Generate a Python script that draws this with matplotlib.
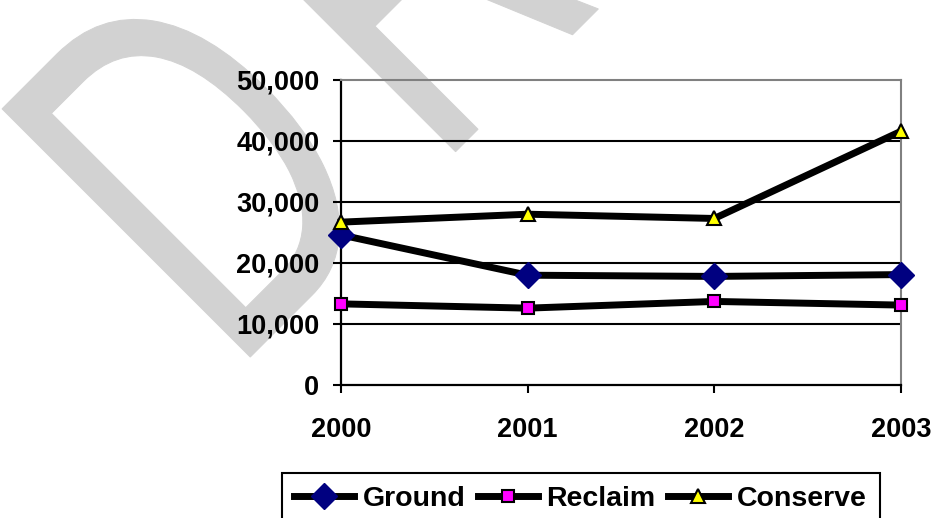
#!/usr/bin/env python

# Water use by source, 2000-2003, with a DRAFT watermark behind the chart

import math
import matplotlib
from matplotlib.backends.backend_agg import \
             FigureCanvasAgg as FigureCanvas
from matplotlib.figure import Figure
from matplotlib.font_manager import FontProperties
from matplotlib.textpath import TextPath
from matplotlib.patches import PathPatch
from matplotlib.transforms import Affine2D
from matplotlib.ticker import FuncFormatter

years    = ['2000', '2001', '2002', '2003']
ground   = [24600, 18000, 17800, 18100]
reclaim  = [13300, 12600, 13700, 13100]
conserve = [26700, 28000, 27300, 41600]
y_ticks  = [0, 10000, 20000, 30000, 40000, 50000]

W, H = 934, 518
fig=Figure(figsize=(W/100, H/100),
           dpi=100,
           facecolor='white')
canvas=FigureCanvas(fig)

font = 'Liberation Sans'

# Watermark: squeezed letters laid along a 45 degree baseline.
# Built from glyph outlines so the squeeze and letter spacing can be set.
wm_fp    = FontProperties(family=font)
wm_grey  = '#d2d2d2'
wm_grow  = 0.5        # outline stroke, pixels each side
wm_cap   = 352.0      # letter height, pixels
wm_sx    = 340.0      # horizontal size of one em, pixels
wm_gap   = 88.0       # space between letters, pixels
wm_base  = 608.0      # baseline: x + y in image pixels
u = -76.0             # position along the baseline, pixels
cap_d = TextPath((0, 0), 'D', size=1, prop=wm_fp).get_extents().ymax
wm_sy = (wm_cap - 2*wm_grow)/cap_d
for letter in 'DRAFT':
    tp = TextPath((0, 0), letter, size=1, prop=wm_fp)
    ext = tp.get_extents()
    xi = (wm_base + u*math.sqrt(2))/2
    yi = (wm_base - u*math.sqrt(2))/2
    tr = (Affine2D().translate(-ext.xmin, 0)
                    .scale(wm_sx, wm_sy)
                    .translate(wm_grow, wm_grow)
                    .rotate_deg(45)
                    .translate(xi, H - yi))
    fig.add_artist(PathPatch(tp, facecolor=wm_grey, edgecolor=wm_grey,
                             lw=2*wm_grow*0.72, joinstyle='miter',
                             transform=tr, zorder=-5))
    u += (ext.xmax - ext.xmin)*wm_sx + 2*wm_grow + wm_gap

ax=fig.add_axes([341/W, 1-385/H, 560/W, 305/H])
ax.set_facecolor('none')

x = range(len(years))
ax.plot(x, ground, color='black', lw=5, marker='D', markersize=13,
        markerfacecolor='#000080', markeredgecolor='#000080',
        clip_on=False, zorder=3, label='Ground')
ax.plot(x, reclaim, color='black', lw=5, marker='s', markersize=9,
        markerfacecolor='#ff00ff', markeredgecolor='black',
        markeredgewidth=1.5, clip_on=False, zorder=3, label='Reclaim')
ax.plot(x, conserve, color='black', lw=5, marker='^', markersize=10,
        markerfacecolor='#ffff00', markeredgecolor='black',
        markeredgewidth=1.5, clip_on=False, zorder=3, label='Conserve')

ax.set_xlim(0, len(years)-1)
ax.set_ylim(0, 50000)
ax.set_xticks(list(x))
ax.set_xticklabels(years)
ax.set_yticks(y_ticks)
ax.yaxis.set_major_formatter(FuncFormatter(lambda v, p: f'{int(v):,}'))

# Gridlines
for v in y_ticks[1:-1]:
    ax.axhline(v, color='black', lw=1.5, zorder=1)

for side in ['left', 'bottom']:
    ax.spines[side].set_color('black')
    ax.spines[side].set_linewidth(1.6)
for side in ['top', 'right']:
    ax.spines[side].set_color('#808080')
    ax.spines[side].set_linewidth(1.5)

ax.tick_params(axis='both', direction='out', length=6, width=1.5,
               color='black')
ax.tick_params(axis='y', pad=9.5)
ax.tick_params(axis='x', pad=17)
for lab in ax.get_xticklabels()+ax.get_yticklabels():
    lab.set_fontfamily(font)
    lab.set_fontweight('bold')
    lab.set_fontsize(19.5)

leg=ax.legend(loc='upper center', bbox_to_anchor=(580.5/W, 1-473/H),
              bbox_transform=fig.transFigure, ncol=3, frameon=True,
              fancybox=False, edgecolor='black', framealpha=1,
              handlelength=2.1, handletextpad=0.3, columnspacing=0.45,
              borderpad=0.45, borderaxespad=0,
              prop={'family': font, 'weight': 'bold', 'size': 20.5})
leg.get_frame().set_linewidth(1.5)

fig.savefig('out.png')
